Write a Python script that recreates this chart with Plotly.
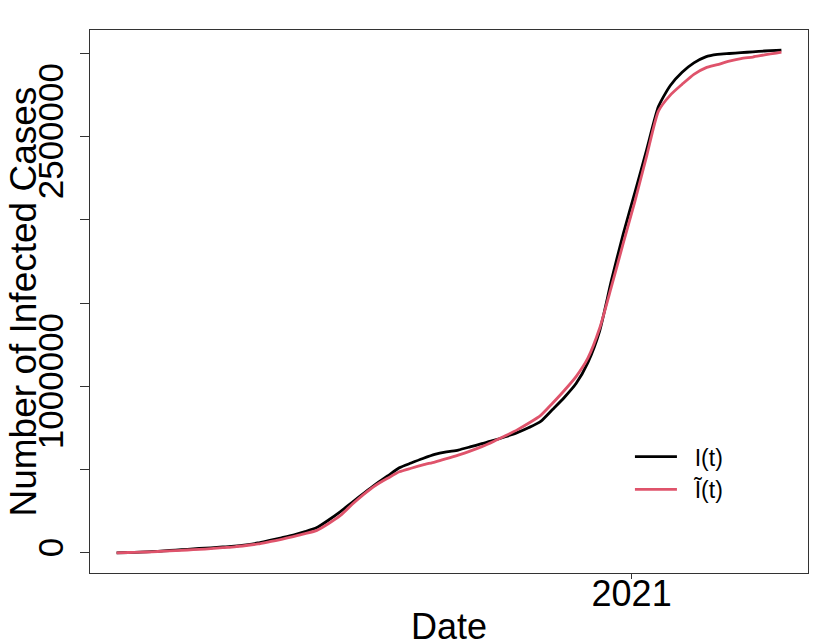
import pandas as pd
import plotly.graph_objects as go

dates = ["2020-03-01", "2020-03-08", "2020-03-15", "2020-03-22", "2020-03-29", "2020-04-05",
         "2020-04-12", "2020-04-19", "2020-04-26", "2020-05-03", "2020-05-10", "2020-05-17",
         "2020-05-24", "2020-05-31", "2020-06-07", "2020-06-14", "2020-06-21", "2020-06-28",
         "2020-07-05", "2020-07-12", "2020-07-19", "2020-07-26", "2020-08-02", "2020-08-09",
         "2020-08-16", "2020-08-23", "2020-08-30", "2020-09-06", "2020-09-13", "2020-09-20",
         "2020-09-27", "2020-10-04", "2020-10-11", "2020-10-18", "2020-10-25", "2020-11-01",
         "2020-11-08", "2020-11-15", "2020-11-22", "2020-11-29", "2020-12-06", "2020-12-13",
         "2020-12-20", "2020-12-27", "2021-01-03", "2021-01-10", "2021-01-17", "2021-01-24",
         "2021-01-31", "2021-02-07", "2021-02-14", "2021-02-21", "2021-02-28", "2021-03-07",
         "2021-03-14", "2021-03-21", "2021-03-28", "2021-03-31"]

# I(t): observed cumulative infected cases
infected = [0, 2400, 4200, 7200, 12000, 16800,
            21600, 26400, 30600, 35400, 40200, 48600,
            59400, 75000, 90600, 106800, 127200, 151800,
            197400, 247800, 303600, 358800, 412200, 461400,
            511200, 539400, 566400, 591000, 606600, 617400,
            636000, 655800, 675000, 697200, 721800, 752400,
            789600, 860400, 933000, 1016400, 1142400, 1332000,
            1635600, 1913400, 2164800, 2422200, 2680200, 2805600,
            2884800, 2941200, 2977800, 2992200, 2997600, 3002400,
            3007800, 3012600, 3016200, 3018000]

# I~(t): fitted cumulative infected cases
fitted = [0, 2400, 4200, 6600, 10200, 13800,
          17400, 21000, 25200, 31200, 36600, 44400,
          53400, 67200, 81600, 97800, 115200, 135000,
          176400, 225000, 291600, 352800, 406200, 447600,
          486600, 508200, 528000, 545400, 565500, 586800,
          610800, 637800, 669000, 702900, 738300, 779400,
          825600, 898200, 975000, 1058400, 1168800, 1348200,
          1598400, 1857600, 2112000, 2385000, 2653200, 2748000,
          2812800, 2872800, 2911200, 2931000, 2951400, 2967600,
          2976600, 2989200, 3000600, 3006000]

x_tickvals = ["2021-01-01"]
x_ticktext = ["2021"]
y_tickvals = [0, 500000, 1000000, 1500000, 2000000, 2500000, 3000000]
y_ticktext = ["0", "", "1000000", "", "", "2500000", ""]

series_names = ["\u00a0\u00a0I(t)", "\u00a0\u00a0\u0128(t)"]
series_colors = ["#000000", "#DF536B"]

FONT = "Liberation Sans, Arial, Helvetica, sans-serif"

d = pd.to_datetime(dates)
span = d.max() - d.min()
x_range = [d.min() - 0.04 * span, d.max() + 0.04 * span]
ymax = max(max(infected), max(fitted))
y_range = [-0.04 * ymax, ymax * 1.04]

fig = go.Figure()
for name, vals, col in zip(series_names, [infected, fitted], series_colors):
    fig.add_trace(go.Scatter(x=d, y=vals, mode="lines", name=name,
                             line=dict(color=col, width=2.8, shape="spline", smoothing=0.6)))

fig.update_layout(
    width=830, height=642,
    margin=dict(l=82, r=30, t=22, b=77, autoexpand=False),
    paper_bgcolor="white", plot_bgcolor="white",
    font=dict(family=FONT, color="black", size=36),
    legend=dict(x=0.752, y=0.254, xanchor="left", yanchor="top",
                bgcolor="rgba(0,0,0,0)", font=dict(size=23, family=FONT),
                itemwidth=42, tracegroupgap=0),
    showlegend=True,
    annotations=[dict(text="Number of Infected Cases", xref="paper", yref="paper",
                      x=0, y=0.5, xshift=-67, xanchor="center", yanchor="middle",
                      textangle=-90, showarrow=False, font=dict(size=37, family=FONT))],
)
fig.update_xaxes(
    type="date", range=x_range, tickvals=x_tickvals, ticktext=x_ticktext,
    showgrid=False, zeroline=False, showline=True, mirror=True,
    linecolor="#333333", linewidth=1, ticks="outside", ticklen=5, tickcolor="#333333",
    tickfont=dict(size=36), ticklabelstandoff=-16,
    title=dict(text="Date", font=dict(size=36), standoff=0),
    automargin=False,
)
fig.update_yaxes(
    range=y_range, tickvals=y_tickvals, ticktext=y_ticktext, tickangle=-90,
    showgrid=False, zeroline=False, showline=True, mirror=True,
    linecolor="#333333", linewidth=1, ticks="outside", ticklen=9, tickcolor="#333333",
    tickfont=dict(size=35), ticklabelstandoff=3,
    automargin=False,
)

fig.write_html("out.html")
